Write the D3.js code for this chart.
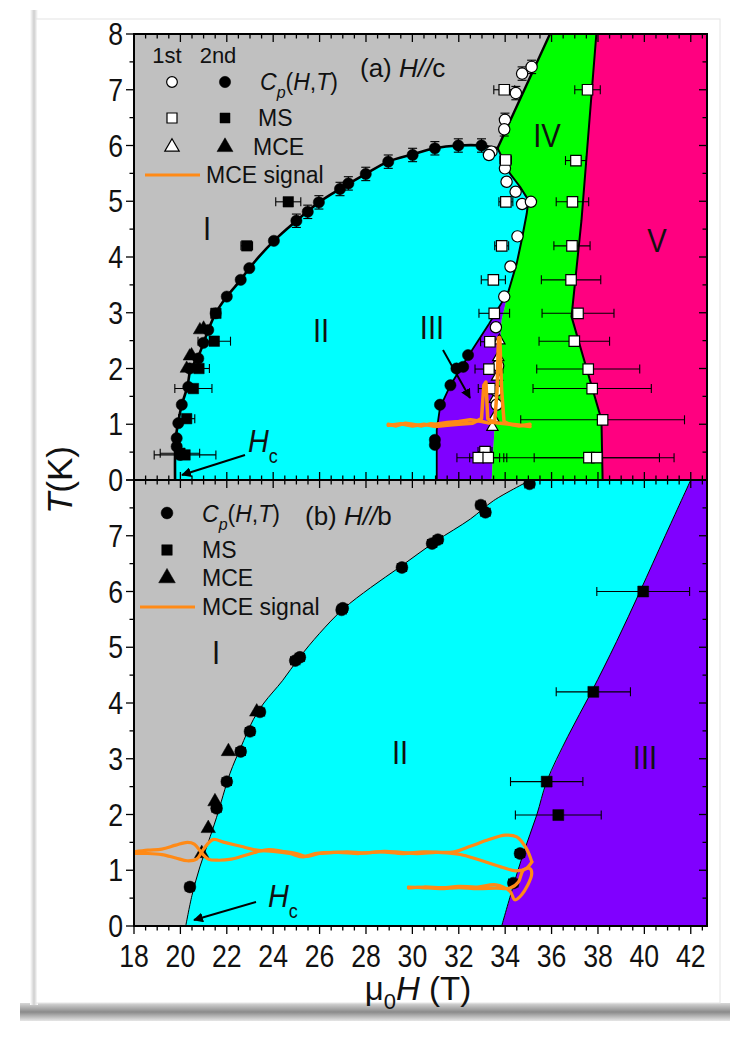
<!DOCTYPE html>
<html><head><meta charset="utf-8">
<script src="https://cdn.jsdelivr.net/npm/d3@7"></script>
<style>body{margin:0;background:#fff}svg{display:block}</style>
</head><body><svg id="c" width="730" height="1042"></svg>
<script>
// ---------------- DATA ----------------
const fieldTicks = [18,20,22,24,26,28,30,32,34,36,38,40,42];
const tempTicksTop = [0,1,2,3,4,5,6,7,8];
const tempTicksBot = [0,1,2,3,4,5,6,7];

// panel (a) H//c phase boundaries [H (T), T (K)]
const aBoundaryI_II = [[19.77,0],[19.77,0.45],[19.8,0.75],[19.9,1.02],[20.06,1.35],[20.3,1.67],[20.45,2.0],[20.75,2.2],[21.0,2.46],[21.2,2.69],[21.52,2.99],[22.0,3.29],[22.6,3.59],[22.97,3.8],[24.03,4.29],[25.0,4.65],[25.97,4.98],[26.88,5.22],[27.99,5.49],[28.96,5.71],[30.01,5.84],[30.97,5.95],[31.98,6.0],[32.98,6.0],[33.67,5.95]];
const aBoundaryI_IV = [[33.67,5.95],[35.93,8]];
const aBoundaryII_IV = [[33.67,5.95],[33.85,5.8],[34.2,5.5],[34.64,5.26],[35.0,5.02],[34.93,4.78],[34.71,4.3],[34.5,3.89],[34.14,3.38]];
const aBoundaryIII_IV = [[34.14,3.38],[33.85,2.87],[33.7,2.0],[33.56,1.08],[33.42,0]];
const aBoundaryII_III = [[34.14,3.38],[33.3,2.8],[32.4,2.22],[31.64,1.7],[31.19,1.3],[31.05,0.9],[31.05,0]];
const aBoundaryIV_V = [[37.93,8],[37.29,4.66],[36.86,2.93],[38.15,1.08],[38.2,0]];

// panel (a) markers
const aCp2nd = [[19.98,0.45],[19.84,0.6],[19.84,0.75],[19.91,1.02],[20.06,1.35],[20.34,1.67],[20.4,2.0],[20.77,2.18],[20.99,2.46],[21.2,2.69],[21.52,2.99],[22.0,3.29],[22.6,3.59],[22.97,3.8],[24.03,4.29],[25.0,4.65],[25.49,4.81],[25.97,4.98],[26.88,5.22],[27.24,5.32],[27.99,5.49],[28.96,5.71],[30.01,5.83],[30.97,5.95],[31.98,6.0],[32.98,6.0],
  [32.4,2.24],[32.19,2.03],[31.9,2.0],[31.64,1.7],[31.19,1.35],[30.97,0.72],[30.97,0.63]];
const aCp1st = [[35.14,7.41],[34.73,7.29],[34.46,6.94],[33.99,6.46],[33.96,6.29],[33.41,5.89],[33.3,5.83],[33.99,5.59],[34.06,5.35],[34.45,5.17],[34.73,4.95],[35.11,4.99],[34.53,4.37],[34.23,3.83],[33.96,3.29],[33.6,2.74],[33.7,2.05],[33.62,1.6],[33.63,1.35]];
const aMS2nd = [[24.65,4.99,0.54],[22.86,4.2,0.25],[21.53,2.99,0.2],[21.46,2.49,0.7],[20.8,2.0,0.45],[20.56,1.64,0.8],[20.27,1.1,0.35],[20.2,0.45,1.33],[19.98,0.48,0.85]];
const aMS1st = [[33.96,7.0,0.45],[37.55,7.0,0.55],[34.02,5.74,0.25],[37.05,5.73,0.45],[34.03,4.99,0.3],[36.9,4.99,0.7],[33.85,4.2,0.3],[36.88,4.2,0.78],[33.49,3.59,0.52],[36.84,3.59,1.28],[33.53,2.99,0.66],[37.14,2.99,1.55],[33.34,2.48,0.4],[36.98,2.49,1.52],[33.3,1.99,0.6],[37.58,1.99,2.22],[33.34,1.64,0.5],[37.75,1.64,2.55],[38.2,1.08,3.53],[33.13,0.51,0.3],[32.84,0.4,0.92],[33.27,0.4,0.8],[37.61,0.4,3.67],[37.95,0.4,2.7]];
const aMCE2nd = [[20.84,2.69],[21.0,2.72],[20.4,2.22],[20.27,2.0],[20.48,2.24]];
const aMCE1st = [[33.75,2.5],[33.7,2.2],[33.65,1.85],[33.55,1.45],[33.5,1.1],[33.45,0.95]];
const aSignalUp = [[28.96,1.0],[29.3,0.97],[29.7,1.02],[30.0,1.0],[30.4,0.97],[30.8,1.01],[31.0,1.0],[31.5,1.03],[32.0,1.05],[32.5,1.08],[33.0,1.05],[33.3,1.02],[33.55,1.05],[33.65,1.6],[33.71,2.55],[33.77,2.55],[33.85,1.6],[33.95,1.05],[34.2,1.0],[34.6,0.97],[35.07,1.0]];
const aSignalDown = [[35.07,0.96],[34.5,0.99],[34.0,1.01],[33.5,1.03],[33.25,1.1],[33.17,1.76],[33.08,1.7],[32.98,1.1],[32.6,1.02],[32.0,1.0],[31.5,0.98],[31.0,0.96],[30.5,1.0],[30.0,0.97],[29.5,1.01],[28.96,0.98]];

// panel (b) H//b
const bBoundaryI_II = [[20.23,0],[20.5,0.55],[20.84,1.06],[21.2,1.5],[21.56,1.95],[22.14,2.74],[22.6,3.2],[23.14,3.7],[23.6,4.0],[24.4,4.4],[25.1,4.8],[26,5.25],[27,5.68],[28.2,6.07],[29.5,6.45],[31,6.9],[32.5,7.3],[33.5,7.63],[35.1,8]];
const bBoundaryII_III = [[33.85,0],[34.3,0.65],[34.78,1.3],[35.36,1.99],[35.79,2.59],[36.7,3.4],[37.72,4.2],[38.8,5.1],[39.81,6.0],[40.9,7.0],[42.0,8]];
const bCp = [[20.41,0.7],[21.56,2.11],[22.0,2.59],[22.6,3.13],[23.0,3.49],[23.43,3.84],[24.95,4.76],[25.15,4.82],[26.95,5.67],[27.0,5.7],[29.55,6.43],[30.85,6.86],[31.1,6.93],[32.95,7.55],[33.15,7.42],[35.05,7.93],[34.64,1.3],[34.35,0.77]];
const bMS = [[39.95,6.0,2.0],[37.8,4.2,1.6],[35.79,2.59,1.56],[36.29,1.99,1.85]];
const bMCE = [[20.92,1.3],[21.2,1.75],[21.49,2.23],[22.07,3.13],[23.29,3.84]];
const bSignalA = [[18,1.33],[18.6,1.36],[19.2,1.38],[19.8,1.45],[20.3,1.5],[20.6,1.47],[20.9,1.32],[21.2,1.2],[21.6,1.18],[22.2,1.2],[22.8,1.27],[23.3,1.33],[23.8,1.37],[24.4,1.34],[25.0,1.3],[25.4,1.25],[26,1.3],[26.6,1.32],[27.2,1.33],[28,1.31],[28.8,1.34],[29.5,1.32],[30.2,1.3],[31,1.32],[31.8,1.33],[32.5,1.43],[33.3,1.55],[34.0,1.63],[34.5,1.6],[34.9,1.4],[35.15,1.15]];
const bSignalB = [[35.15,1.15],[34.9,1.03],[34.45,0.99],[33.9,1.05],[33.0,1.17],[32.2,1.27],[31.5,1.31],[30.5,1.33],[29.6,1.3],[28.6,1.33],[27.7,1.3],[26.8,1.32],[25.8,1.3],[25.3,1.24],[24.7,1.3],[24.0,1.34],[23.3,1.36],[22.6,1.43],[21.9,1.5],[21.4,1.55],[21.0,1.38],[20.7,1.2],[20.3,1.17],[19.8,1.22],[19.2,1.28],[18.6,1.3],[18,1.3]];
const bSignalC = [[29.83,0.68],[30.5,0.7],[31.3,0.69],[32.0,0.71],[32.8,0.7],[33.6,0.74],[34.21,0.62],[34.42,0.47],[34.71,0.56],[35.14,0.92],[35.07,1.03],[34.78,1.0],[34.57,0.79],[34.21,0.68],[33.6,0.68],[32.8,0.67],[32.0,0.69],[31.2,0.67],[30.4,0.69],[29.83,0.7]];

// ---------------- CHART ----------------
const svg = d3.select("#c");
const FONT = "'Liberation Sans', Arial, Helvetica, sans-serif";
const L = 134, R = 707, TOP = 34, MID = 480, BOT = 926;
const x = d3.scaleLinear().domain([18, 42.7]).range([L, R]);
const yA = d3.scaleLinear().domain([0, 8]).range([MID, TOP]);
const yB = d3.scaleLinear().domain([0, 8]).range([BOT, MID]);

const COL = {gray:"#c0c0c0", cyan:"#00ffff", green:"#00ff00", pink:"#ff0080", purple:"#8000ff", orange:"#ff8a16"};

// page card and shadow
const defs = svg.append("defs");
const gsh = defs.append("linearGradient").attr("id","shb").attr("x1",0).attr("y1",0).attr("x2",0).attr("y2",1);
gsh.append("stop").attr("offset",0).attr("stop-color","#d8d8d8");
gsh.append("stop").attr("offset",0.5).attr("stop-color","#8a8a8a");
gsh.append("stop").attr("offset",1).attr("stop-color","#e6e6e6");
const gsh2 = defs.append("linearGradient").attr("id","shl").attr("x1",0).attr("y1",0).attr("x2",1).attr("y2",0);
gsh2.append("stop").attr("offset",0).attr("stop-color","#fff");
gsh2.append("stop").attr("offset",0.5).attr("stop-color","#cfcfcf");
gsh2.append("stop").attr("offset",1).attr("stop-color","#fff");
svg.append("rect").attr("x",0).attr("y",0).attr("width",730).attr("height",1042).attr("fill","#fff");
svg.append("rect").attr("x",20).attr("y",1003).attr("width",710).attr("height",18).attr("fill","url(#shb)");
svg.append("rect").attr("x",30).attr("y",10).attr("width",8).attr("height",995).attr("fill","url(#shl)");
svg.append("rect").attr("x",36).attr("y",19).attr("width",684).attr("height",984).attr("fill","#fff").attr("stroke","#e4e4e4").attr("stroke-width",1);

function poly(g, pts, ys, fill) {
  g.append("path").attr("d", d3.line().x(d=>x(d[0])).y(d=>ys(d[1]))(pts) + "Z").attr("fill", fill).attr("stroke","none");
}
function lineP(g, pts, ys, w, col, curve) {
  g.append("path").attr("d", d3.line().curve(curve||d3.curveLinear).x(d=>x(d[0])).y(d=>ys(d[1]))(pts))
   .attr("fill","none").attr("stroke", col||"#000").attr("stroke-width", w).attr("stroke-linejoin","round").attr("stroke-linecap","round");
}

defs.append("clipPath").attr("id","clipA").append("rect").attr("x",L).attr("y",TOP).attr("width",R-L).attr("height",MID-TOP);
defs.append("clipPath").attr("id","clipB").append("rect").attr("x",L).attr("y",MID).attr("width",R-L).attr("height",BOT-MID);

// ----- panel a regions
const gA = svg.append("g").attr("clip-path","url(#clipA)");
gA.append("rect").attr("x",L).attr("y",TOP).attr("width",R-L).attr("height",MID-TOP).attr("fill",COL.gray);
poly(gA, [...aBoundaryI_II, ...aBoundaryII_IV.slice(1), ...aBoundaryII_III.slice(1)], yA, COL.cyan);
poly(gA, [...aBoundaryII_III, ...aBoundaryIII_IV.slice().reverse().slice(0,-1)], yA, COL.purple);
poly(gA, [...aBoundaryI_IV.slice().reverse(), ...aBoundaryII_IV.slice(1), ...aBoundaryIII_IV.slice(1), ...aBoundaryIV_V.slice().reverse()], yA, COL.green);
poly(gA, [...aBoundaryIV_V, [42.7,0],[42.7,8]], yA, COL.pink);
lineP(gA, aBoundaryI_II, yA, 2.6, "#000", d3.curveCatmullRom);
lineP(gA, aBoundaryI_IV, yA, 2.4);
lineP(gA, aBoundaryII_IV, yA, 2);
lineP(gA, aBoundaryII_III, yA, 1.8);
lineP(gA, aBoundaryIV_V, yA, 2);

// ----- panel b regions
const gB = svg.append("g").attr("clip-path","url(#clipB)");
gB.append("rect").attr("x",L).attr("y",MID).attr("width",R-L).attr("height",BOT-MID).attr("fill",COL.gray);
poly(gB, [...bBoundaryI_II, ...bBoundaryII_III.slice().reverse()], yB, COL.cyan);
poly(gB, [...bBoundaryII_III, [42.7,8],[42.7,0]], yB, COL.purple);
lineP(gB, bBoundaryI_II, yB, 1, "#000", d3.curveCatmullRom);
lineP(gB, bBoundaryII_III, yB, 1, "#000", d3.curveCatmullRom);

// ----- markers
function hErr(g, data, ys) {
  data.forEach(d => {
    const x0 = x(d[0]-d[2]), x1 = x(d[0]+d[2]), yy = ys(d[1]);
    g.append("line").attr("x1",x0).attr("x2",x1).attr("y1",yy).attr("y2",yy).attr("stroke","#000").attr("stroke-width",1.1);
    [x0,x1].forEach(xx => g.append("line").attr("x1",xx).attr("x2",xx).attr("y1",yy-4.5).attr("y2",yy+4.5).attr("stroke","#000").attr("stroke-width",1.1));
  });
}
function vErr(g, data, ys, e) {
  data.forEach(d => {
    const y0 = ys(d[1]-e), y1 = ys(d[1]+e), xx = x(d[0]);
    g.append("line").attr("x1",xx).attr("x2",xx).attr("y1",y0).attr("y2",y1).attr("stroke","#000").attr("stroke-width",1.1);
    [y0,y1].forEach(yy => g.append("line").attr("x1",xx-4.5).attr("x2",xx+4.5).attr("y1",yy).attr("y2",yy).attr("stroke","#000").attr("stroke-width",1.1));
  });
}
function sym(g, data, ys, type, size, open) {
  g.selectAll(null).data(data).join("path")
   .attr("d", d3.symbol().type(type).size(size))
   .attr("transform", d => `translate(${x(d[0])},${ys(d[1])})`)
   .attr("fill", open ? "#fff" : "#000").attr("stroke","#000").attr("stroke-width", open ? 1.2 : 0.5);
}
const mA = svg.append("g").attr("clip-path","url(#clipA)");
vErr(mA, aCp2nd.filter(d=>d[1]>4.5 && d[0]<33.5), yA, 0.12);
vErr(mA, aCp1st.filter(d=>d[1]>6), yA, 0.12);
hErr(mA, aMS2nd, yA);
hErr(mA, aMS1st, yA);
sym(mA, aCp2nd, yA, d3.symbolCircle, 100, false);
sym(mA, aMCE2nd, yA, d3.symbolTriangle, 75, false);
sym(mA, aMS2nd, yA, d3.symbolSquare, 110, false);
sym(mA, aMCE1st, yA, d3.symbolTriangle, 55, true);
sym(mA, aCp1st, yA, d3.symbolCircle, 100, true);
sym(mA, aMS1st, yA, d3.symbolSquare, 110, true);
lineP(mA, aSignalDown, yA, 3.5, COL.orange);
lineP(mA, aSignalUp, yA, 3.5, COL.orange);

const mB = svg.append("g").attr("clip-path","url(#clipB)");
hErr(mB, bCp.map(d=>[d[0],d[1],0.2]), yB);
hErr(mB, bMS, yB);
sym(mB, bCp, yB, d3.symbolCircle, 110, false);
sym(mB, bMCE, yB, d3.symbolTriangle, 90, false);
sym(mB, bMS, yB, d3.symbolSquare, 120, false);
lineP(mB, bSignalA, yB, 3.2, COL.orange, d3.curveCatmullRom);
lineP(mB, bSignalB, yB, 3.2, COL.orange, d3.curveCatmullRom);
lineP(mB, bSignalC, yB, 3.2, COL.orange, d3.curveCatmullRom);

// ----- axes
const ax = svg.append("g");
const minorX = d3.range(18, 42.75, 0.5);
const minorT = d3.range(0, 8.01, 0.5);
function ticksX(yPos, dir, both) {
  minorX.forEach(v => {
    const major = Math.abs(v/2 - Math.round(v/2)) < 1e-6;
    const len = major ? 8 : 4.5;
    const y1 = both ? yPos - len : yPos;
    ax.append("line").attr("x1",x(v)).attr("x2",x(v)).attr("y1",y1).attr("y2",yPos+dir*len).attr("stroke","#000").attr("stroke-width",1.3);
  });
}
function ticksY(ys, xPos, dir) {
  minorT.forEach(v => {
    const major = Math.abs(v - Math.round(v)) < 1e-6;
    const len = major ? 8 : 4.5;
    ax.append("line").attr("x1",xPos).attr("x2",xPos+dir*len).attr("y1",ys(v)).attr("y2",ys(v)).attr("stroke","#000").attr("stroke-width",1.3);
  });
}
ticksX(TOP, 1, false);
ticksX(MID, 1, true);
ticksX(BOT, 1, false);
ticksY(yA, L, -1); ticksY(yB, L, -1);
ticksY(yA, R, -1); ticksY(yB, R, -1);
ax.append("rect").attr("x",L).attr("y",TOP).attr("width",R-L).attr("height",BOT-TOP).attr("fill","none").attr("stroke","#000").attr("stroke-width",2);
ax.append("line").attr("x1",L).attr("x2",R).attr("y1",MID).attr("y2",MID).attr("stroke","#000").attr("stroke-width",2);

// ----- text helpers
function txt(xp, yp, size, anchor, sx) {
  const g = svg.append("g").attr("transform", `translate(${xp},${yp}) scale(${sx||1},1)`);
  return g.append("text").attr("font-family", FONT).attr("font-size", size).attr("text-anchor", anchor || "start").attr("fill","#111");
}
fieldTicks.forEach(v => txt(x(v), 967, 31, "middle", 0.86).text(v));
tempTicksTop.forEach(v => txt(123, yA(v)+11, 31, "end", 0.86).text(v));
tempTicksBot.forEach(v => txt(123, yB(v)+11, 31, "end", 0.86).text(v));

// axis titles
(function(){
  const g = svg.append("g").attr("transform", `translate(72,480) rotate(-90)`);
  const t = g.append("text").attr("font-family",FONT).attr("font-size",35).attr("text-anchor","middle").attr("fill","#111");
  t.append("tspan").attr("font-style","italic").text("T");
  t.append("tspan").text("(K)");
})();
(function(){
  const t = txt(418, 1000, 33, "middle");
  t.append("tspan").text("μ");
  t.append("tspan").attr("font-size",22).attr("dy",9).text("0");
  t.append("tspan").attr("font-style","italic").attr("dy",-9).text("H");
  t.append("tspan").text(" (T)");
})();

// legend helper
function cpText(t) {
  t.append("tspan").attr("font-style","italic").text("C");
  t.append("tspan").attr("font-style","italic").attr("font-size",16).attr("dy",8).text("p");
  t.append("tspan").attr("dy",-8).text("(");
  t.append("tspan").attr("font-style","italic").text("H");
  t.append("tspan").text(",");
  t.append("tspan").attr("font-style","italic").text("T");
  t.append("tspan").text(")");
}
const lg = svg.append("g");
function legSym(xp, yp, type, size, open) {
  lg.append("path").attr("d", d3.symbol().type(type).size(size)()).attr("transform",`translate(${xp},${yp})`)
    .attr("fill", open ? "#fff" : "#000").attr("stroke","#000").attr("stroke-width", open?1.2:0.5);
}
// panel a legend
txt(167, 63, 22, "middle").text("1st");
txt(218, 63, 22, "middle").text("2nd");
legSym(172, 82, d3.symbolCircle, 90, true); legSym(225, 82, d3.symbolCircle, 100, false);
cpText(txt(260, 90, 23));
legSym(172, 118, d3.symbolSquare, 100, true); legSym(225, 118, d3.symbolSquare, 100, false);
txt(258, 126, 23).text("MS");
legSym(172, 147, d3.symbolTriangle, 90, true); legSym(225, 147, d3.symbolTriangle, 110, false);
txt(253, 155, 23).text("MCE");
lg.append("line").attr("x1",145).attr("x2",200).attr("y1",175).attr("y2",175).attr("stroke",COL.orange).attr("stroke-width",3);
txt(206, 183, 23).text("MCE signal");
(function(){ const t = txt(360, 77, 26); t.append("tspan").text("(a) "); t.append("tspan").attr("font-style","italic").text("H//"); t.append("tspan").text("c"); })();

// panel b legend
legSym(167, 513, d3.symbolCircle, 110, false);
cpText(txt(202, 522, 23));
legSym(167, 550, d3.symbolSquare, 110, false);
txt(202, 558, 23).text("MS");
legSym(167, 578, d3.symbolTriangle, 120, false);
txt(202, 586, 23).text("MCE");
lg.append("line").attr("x1",140).attr("x2",195).attr("y1",607).attr("y2",607).attr("stroke",COL.orange).attr("stroke-width",3);
txt(202, 615, 23).text("MCE signal");
(function(){ const t = txt(305, 525, 26); t.append("tspan").text("(b) "); t.append("tspan").attr("font-style","italic").text("H//"); t.append("tspan").text("b"); })();

// region labels
[["I",207,228],["II",321,330],["III",432,327],["IV",547,135],["V",657,240],["I",216,652],["II",400,752],["III",645,757]]
  .forEach(d => txt(d[1], d[2]+12, 34, "middle", 0.86).text(d[0]));

// Hc labels + arrows
defs.append("marker").attr("id","ah").attr("viewBox","0 0 10 10").attr("refX",9).attr("refY",5)
  .attr("markerWidth",5).attr("markerHeight",5).attr("orient","auto")
  .append("path").attr("d","M0,0L10,5L0,10Z").attr("fill","#000");
function arrow(x1,y1,x2,y2){ svg.append("line").attr("x1",x1).attr("y1",y1).attr("x2",x2).attr("y2",y2).attr("stroke","#000").attr("stroke-width",2).attr("marker-end","url(#ah)"); }
function hc(xp, yp) {
  const t = txt(xp, yp, 32, "start", 0.9);
  t.append("tspan").attr("font-style","italic").text("H");
  t.append("tspan").attr("font-size",20).attr("dy",11).text("c");
}
hc(248, 452); arrow(245,455,182,475);
hc(268, 907); arrow(256,902,194,920);
arrow(443,350,470,398);
</script></body></html>
